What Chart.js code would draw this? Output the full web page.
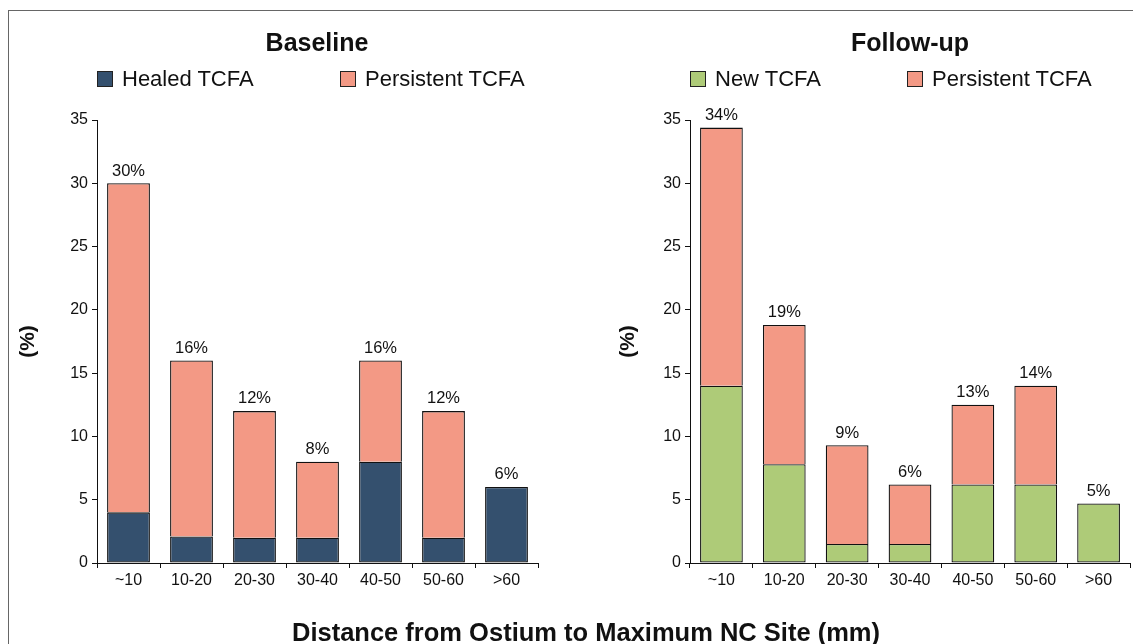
<!DOCTYPE html>
<html>
<head>
<meta charset="utf-8">
<script src="https://cdn.jsdelivr.net/npm/chart.js@4.4.0/dist/chart.umd.min.js"></script>
<style>
  html, body { margin: 0; padding: 0; background: #fff; width: 1133px; height: 644px; overflow: hidden; }
  body { position: relative; font-family: "Liberation Sans", Arial, Helvetica, sans-serif; color: #111; }
  .frame { position: absolute; left: 8px; top: 10px; width: 1200px; height: 800px; border: 1px solid #666; box-sizing: border-box; }
  .wrap { position: absolute; top: 0; height: 644px; }
  .title { position: absolute; top: 28px; font-weight: bold; font-size: 25px; line-height: 28px; white-space: nowrap; transform: translateX(-50%); }
  .leg { position: absolute; top: 67px; font-size: 22px; line-height: 24px; white-space: nowrap; }
  .leg .box { position: absolute; left: 0; top: 4px; width: 16px; height: 16px; box-sizing: border-box; border: 1px solid #222; }
  .leg .txt { position: absolute; top: 0; }
  .xtitle { position: absolute; top: 618px; left: 586px; transform: translateX(-50%); font-weight: bold; font-size: 25.5px; line-height: 28px; white-space: nowrap; }
</style>
</head>
<body>
<div class="frame"></div>
<div class="wrap" style="left:0;width:566px;"><canvas id="c1"></canvas></div>
<div class="wrap" style="left:566px;width:567px;"><canvas id="c2"></canvas></div>
<div id="overlay"></div>
<div class="xtitle" id="xtitle"></div>
<script>
// ---- data ----
const categories = ["~10", "10-20", "20-30", "30-40", "40-50", "50-60", ">60"];
const baselineHealed = [4, 2.1, 2, 2, 8, 2, 6];
const baselinePersistent = [26, 13.9, 10, 6, 8, 10, null];
const baselineLabels = ["30%", "16%", "12%", "8%", "16%", "12%", "6%"];
const followNew = [14, 7.8, 1.5, 1.5, 6.2, 6.2, 4.7];
const followPersistent = [20.4, 11, 7.8, 4.7, 6.3, 7.8, null];
const followLabels = ["34%", "19%", "9%", "6%", "13%", "14%", "5%"];
const titles = ["Baseline", "Follow-up"];
const legendBaseline = ["Healed TCFA", "Persistent TCFA"];
const legendFollow = ["New TCFA", "Persistent TCFA"];
const yAxisTitle = "(%)";
const xAxisTitle = "Distance from Ostium to Maximum NC Site (mm)";

const NAVY = "#34506e", SALMON = "#f39985", GREEN = "#aecb78";
const FONT = "'Liberation Sans', Arial, Helvetica, sans-serif";

// ---- HTML titles & legends ----
const ov = document.getElementById('overlay');
function addTitle(text, cx) {
  const d = document.createElement('div'); d.className = 'title'; d.textContent = text; d.style.left = cx + 'px'; ov.appendChild(d);
}
function addLeg(text, color, x) {
  const d = document.createElement('div'); d.className = 'leg'; d.style.left = x + 'px';
  const b = document.createElement('span'); b.className = 'box'; b.style.background = color;
  const t = document.createElement('span'); t.className = 'txt'; t.style.left = '25px'; t.textContent = text;
  d.appendChild(b); d.appendChild(t); ov.appendChild(d);
}
addTitle(titles[0], 317);
addTitle(titles[1], 910);
addLeg(legendBaseline[0], NAVY, 97);
addLeg(legendBaseline[1], SALMON, 340);
addLeg(legendFollow[0], GREEN, 690);
addLeg(legendFollow[1], SALMON, 907);
document.getElementById('xtitle').textContent = xAxisTitle;

// ---- value labels plugin ----
const topLabels = {
  id: 'topLabels',
  afterDatasetsDraw(chart, args, opts) {
    const {ctx} = chart;
    const xs = chart.scales.x, ys = chart.scales.y;
    ctx.save();
    ctx.font = "16.5px " + FONT;
    ctx.fillStyle = "#111";
    ctx.textAlign = 'center';
    ctx.textBaseline = 'bottom';
    opts.labels.forEach((lab, i) => {
      let sum = 0;
      chart.data.datasets.forEach(ds => { if (ds.data[i] != null) sum += ds.data[i]; });
      ctx.fillText(lab, xs.getPixelForValue(i), ys.getPixelForValue(sum) - 4);
    });
    ctx.restore();
  }
};

function makeChart(id, bottomData, bottomColor, bottomLabel, topData, labels, pad, yWidth) {
  return new Chart(document.getElementById(id), {
    type: 'bar',
    data: {
      labels: categories,
      datasets: [
        { label: bottomLabel, data: bottomData, backgroundColor: bottomColor, borderColor: '#111', borderWidth: 1.3, borderSkipped: false, barPercentage: 0.68, categoryPercentage: 1 },
        { label: 'Persistent TCFA', data: topData, backgroundColor: SALMON, borderColor: '#111', borderWidth: 1.3, borderSkipped: 'start', barPercentage: 0.68, categoryPercentage: 1 }
      ]
    },
    plugins: [topLabels],
    options: {
      responsive: true,
      maintainAspectRatio: false,
      animation: false,
      layout: { padding: pad },
      plugins: {
        legend: { display: false },
        title: { display: false },
        tooltip: { enabled: false },
        topLabels: { labels: labels }
      },
      scales: {
        x: {
          stacked: true,
          offset: true,
          grid: { offset: true, drawOnChartArea: false, drawTicks: true, tickLength: 5, color: '#111', lineWidth: 1 },
          border: { display: true, color: '#111', width: 1 },
          ticks: { color: '#111', font: { family: FONT, size: 16 }, padding: 3, maxRotation: 0, autoSkip: false },
          afterFit: (s) => { s.height = 40; }
        },
        y: {
          stacked: true,
          min: 0, max: 35,
          ticks: { stepSize: 5, color: '#111', font: { family: FONT, size: 16 }, padding: 4 },
          grid: { drawOnChartArea: false, drawTicks: true, tickLength: 5, color: '#111', lineWidth: 1 },
          border: { display: true, color: '#111', width: 1 },
          title: { display: true, text: yAxisTitle, color: '#111', font: { family: FONT, size: 21, weight: 'bold' }, padding: { top: 0, bottom: 0 } },
          afterFit: (s) => { s.width = yWidth; }
        }
      }
    }
  });
}

makeChart('c1', baselineHealed, NAVY, legendBaseline[0], baselinePersistent, baselineLabels,
  { left: 16, right: 28, top: 120, bottom: 41 }, 81);
makeChart('c2', followNew, GREEN, legendFollow[0], followPersistent, followLabels,
  { left: 50, right: 3, top: 120, bottom: 41 }, 74);
</script>
</body>
</html>
